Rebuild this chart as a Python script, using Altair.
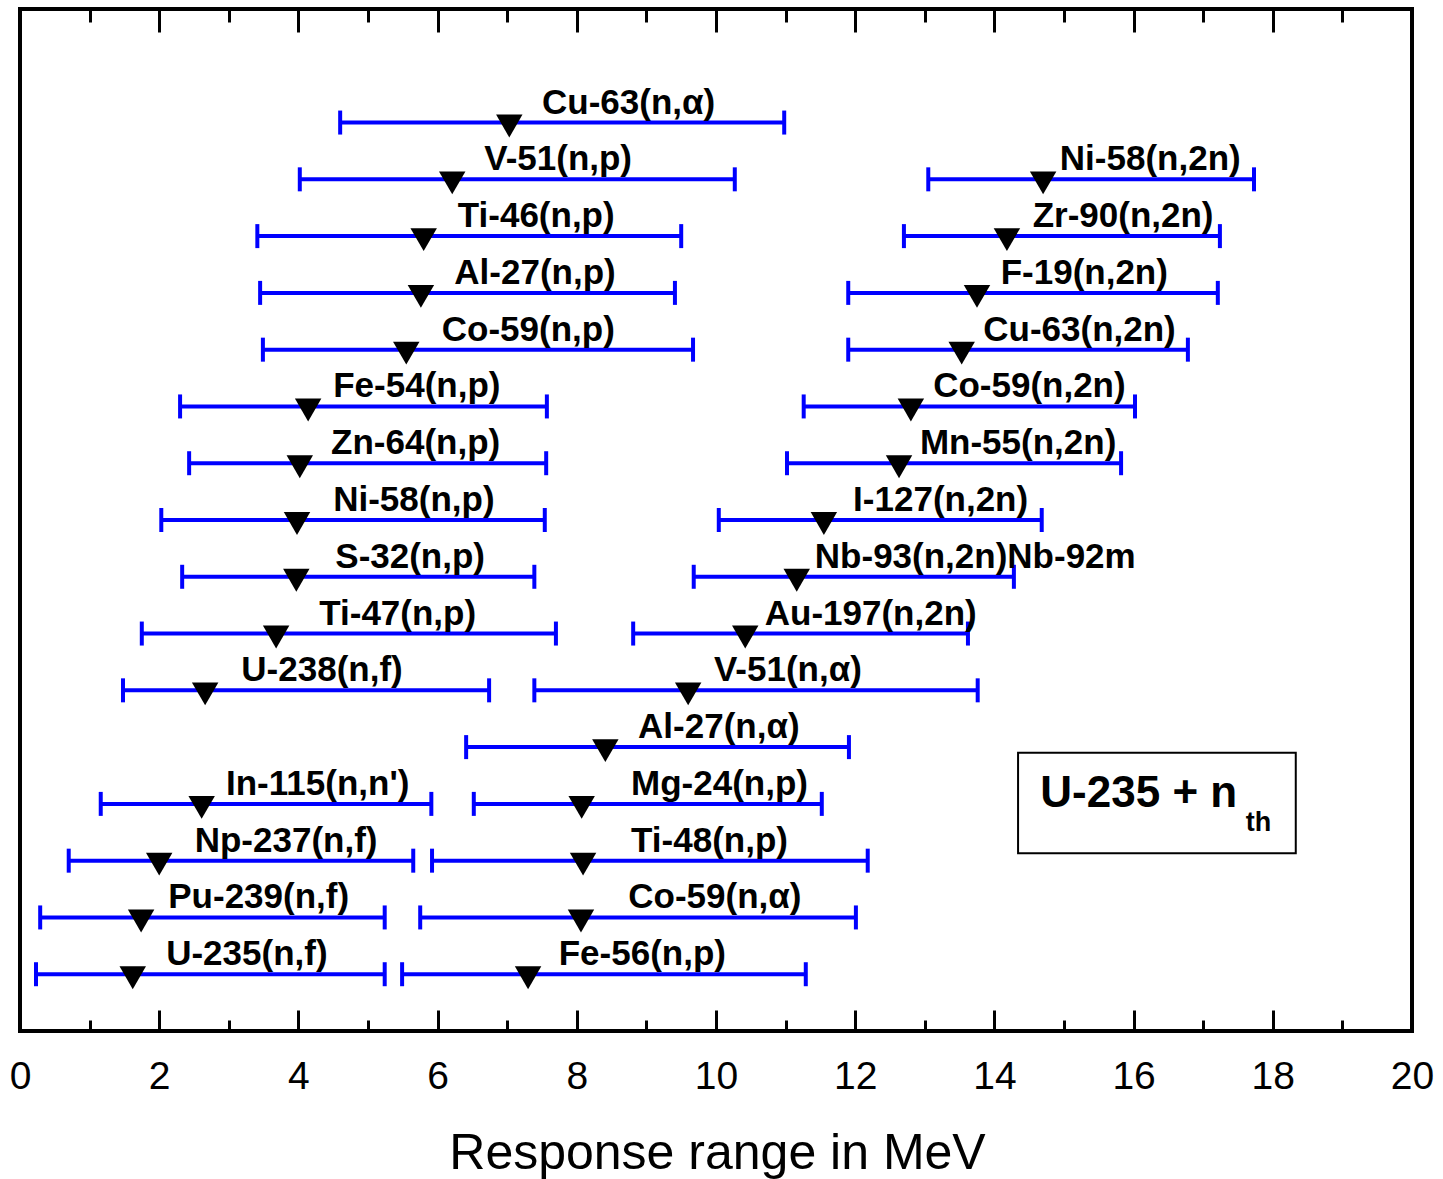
import altair as alt
import pandas as pd

# ---- data (MeV) ----
names = [
    "Cu-63(n,\u03b1)", "V-51(n,p)", "Ti-46(n,p)", "Al-27(n,p)", "Co-59(n,p)",
    "Fe-54(n,p)", "Zn-64(n,p)", "Ni-58(n,p)", "S-32(n,p)", "Ti-47(n,p)",
    "U-238(n,f)", "Al-27(n,\u03b1)", "In-115(n,n')", "Np-237(n,f)", "Pu-239(n,f)",
    "U-235(n,f)",
    "Ni-58(n,2n)", "Zr-90(n,2n)", "F-19(n,2n)", "Cu-63(n,2n)", "Co-59(n,2n)",
    "Mn-55(n,2n)", "I-127(n,2n)", "Nb-93(n,2n)Nb-92m", "Au-197(n,2n)", "V-51(n,\u03b1)",
    "Mg-24(n,p)", "Ti-48(n,p)", "Co-59(n,\u03b1)", "Fe-56(n,p)",
]
rows = [16, 15, 14, 13, 12, 11, 10, 9, 8, 7, 6, 5, 4, 3, 2, 1,
        15, 14, 13, 12, 11, 10, 9, 8, 7, 6, 4, 3, 2, 1]
low = [4.60, 4.02, 3.41, 3.45, 3.49, 2.30, 2.43, 2.03, 2.33, 1.75, 1.48, 6.41, 1.16, 0.70, 0.29, 0.23,
       13.05, 12.70, 11.90, 11.90, 11.26, 11.02, 10.04, 9.68, 8.81, 7.39, 6.52, 5.92, 5.75, 5.49]
high = [10.98, 10.27, 9.50, 9.41, 9.67, 7.57, 7.56, 7.54, 7.39, 7.70, 6.74, 11.91, 5.91, 5.65, 5.24, 5.24,
        17.73, 17.24, 17.21, 16.78, 16.02, 15.82, 14.68, 14.28, 13.62, 13.76, 11.52, 12.18, 12.01, 11.29]
median = [7.03, 6.21, 5.80, 5.76, 5.55, 4.14, 4.02, 3.98, 3.97, 3.68, 2.66, 8.41, 2.61, 2.00, 1.74, 1.62,
          14.70, 14.18, 13.75, 13.53, 12.80, 12.63, 11.55, 11.16, 10.42, 9.60, 8.07, 8.09, 8.06, 7.30]
label_x = [7.50, 6.67, 6.29, 6.24, 6.06, 4.50, 4.47, 4.50, 4.53, 4.30, 3.18, 8.88, 2.96, 2.51, 2.13, 2.10,
           14.94, 14.55, 14.09, 13.84, 13.12, 12.93, 11.97, 11.42, 10.70, 9.97, 8.78, 8.78, 8.74, 7.74]

major_ticks = [0, 2, 4, 6, 8, 10, 12, 14, 16, 18, 20]
minor_ticks = [1, 3, 5, 7, 9, 11, 13, 15, 17, 19]

box_x = [14.34]
box_x2 = [18.33]
box_y = [3.13]
box_y2 = [4.90]
note_main = ["U-235 + n"]
note_main_x = [14.66]
note_main_y = [3.95]
note_sub = ["th"]
note_sub_x = [17.61]
note_sub_y = [3.52]

df = pd.DataFrame({"name": names, "row": rows, "lo": low, "hi": high,
                   "mid": median, "lx": label_x})
box_df = pd.DataFrame({"x": box_x, "x2": box_x2, "y": box_y, "y2": box_y2})
main_df = pd.DataFrame({"t": note_main, "x": note_main_x, "y": note_main_y})
sub_df = pd.DataFrame({"t": note_sub, "x": note_sub_x, "y": note_sub_y})

BLUE = "#0000ff"
FONT = "Liberation Sans"
xscale = alt.Scale(domain=[0, 20], nice=False, zero=False)
yscale = alt.Scale(domain=[0, 18], nice=False, zero=False)
Y = alt.Y("row:Q", scale=yscale, axis=None)


def tick_axis(orient, length, values):
    return alt.Axis(orient=orient, offset=-length, tickSize=length, values=values,
                    labels=False, domain=False, grid=False, title=None,
                    tickColor="black", tickWidth=3)


main_axis = alt.Axis(orient="bottom", values=major_ticks, format="d", ticks=False,
                     tickSize=0, domain=False, grid=False, labelFlush=False,
                     labelOverlap=False,
                     labelFont=FONT, labelFontSize=39, labelColor="black",
                     labelBaseline="alphabetic", labelPadding=57,
                     title="Response range in MeV", titleFont=FONT, titleFontSize=50,
                     titleFontWeight="normal", titleColor="black",
                     titleBaseline="alphabetic", titleX=697, titleY=137)

bars = alt.Chart(df).mark_rule(color=BLUE, strokeWidth=4).encode(
    x=alt.X("lo:Q", scale=xscale, axis=main_axis),
    x2="hi:Q",
    y=Y,
)

cap_lo = alt.Chart(df).mark_tick(orient="vertical", size=24, thickness=4,
                                 color=BLUE, opacity=1).encode(
    x=alt.X("lo:Q", scale=xscale, axis=tick_axis("bottom", 21, major_ticks)),
    y=Y,
)

cap_hi = alt.Chart(df).mark_tick(orient="vertical", size=24, thickness=4,
                                 color=BLUE, opacity=1).encode(
    x=alt.X("hi:Q", scale=xscale, axis=tick_axis("bottom", 11, minor_ticks)),
    y=Y,
)

tri = alt.Chart(df).mark_point(shape="triangle-down", filled=True, color="black",
                               size=700, opacity=1, yOffset=3.5).encode(
    x=alt.X("mid:Q", scale=xscale, axis=tick_axis("top", 23, major_ticks)),
    y=Y,
)

labels = alt.Chart(df).mark_text(align="left", baseline="alphabetic", dy=-9,
                                 font=FONT, fontSize=35, fontWeight="bold",
                                 color="black").encode(
    x=alt.X("lx:Q", scale=xscale, axis=tick_axis("top", 13, minor_ticks)),
    y=Y,
    text="name:N",
)

box = alt.Chart(box_df).mark_rect(fill="white", fillOpacity=0, stroke="black",
                                  strokeWidth=2).encode(
    x=alt.X("x:Q", scale=xscale, axis=None),
    x2="x2:Q",
    y=alt.Y("y:Q", scale=yscale, axis=None),
    y2="y2:Q",
)

note1 = alt.Chart(main_df).mark_text(align="left", baseline="alphabetic", font=FONT,
                                     fontSize=44, fontWeight="bold", color="black").encode(
    x=alt.X("x:Q", scale=xscale, axis=None),
    y=alt.Y("y:Q", scale=yscale, axis=None),
    text="t:N",
)

note2 = alt.Chart(sub_df).mark_text(align="left", baseline="alphabetic", font=FONT,
                                    fontSize=27, fontWeight="bold", color="black").encode(
    x=alt.X("x:Q", scale=xscale, axis=None),
    y=alt.Y("y:Q", scale=yscale, axis=None),
    text="t:N",
)

chart = alt.layer(bars, cap_lo, cap_hi, tri, labels, box, note1, note2).resolve_axis(
    x="independent"
).properties(
    width=1392,
    height=1022,
    autosize=alt.AutoSizeParams(type="none"),
    padding={"left": 20, "top": 9, "right": 31, "bottom": 148},
    background="white",
).configure_view(
    stroke="black", strokeWidth=4
)

chart.save("out.html", embed_options={"renderer": "svg", "actions": False})
